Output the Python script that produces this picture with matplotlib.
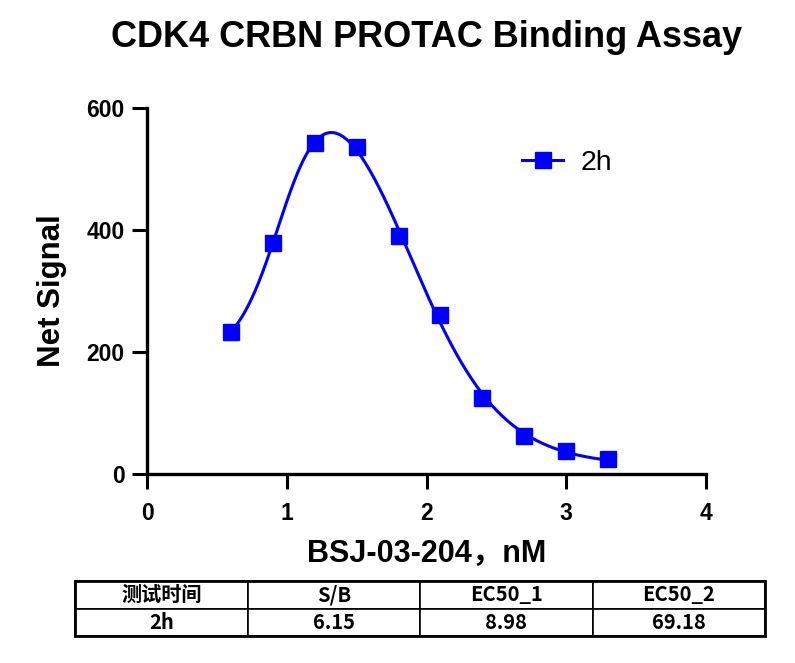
import numpy as np
import matplotlib
matplotlib.use("Agg")
from matplotlib import pyplot as plt
from matplotlib.patches import Rectangle

plt.rcParams['font.family'] = ['Liberation Sans', 'Noto Sans CJK SC', 'DejaVu Sans']

# data (log concentration, net signal)
log_conc = [0.6, 0.9, 1.2, 1.5, 1.8, 2.1, 2.4, 2.7, 3.0, 3.3]
signal_2h = [233, 379, 543, 536, 390, 261, 125, 62, 38, 25]

table_header = ["测试时间", "S/B", "EC50_1", "EC50_2"]
table_row = ["2h", "6.15", "8.98", "69.18"]

blue = "#0000FF"


def bell(p, x):
    p1, dip, p2, e1, n1, e2, n2 = p
    return (dip + (p1 - dip) / (1 + 10 ** ((x - e1) * n1))
            + (p2 - dip) / (1 + 10 ** ((e2 - x) * n2)))


def fit_bell(x, y, p0, iters=400):
    # small Levenberg-Marquardt, no scipy here
    p = np.array(p0, dtype=float)
    lam = 1e-2
    sse = np.sum((y - bell(p, x)) ** 2)
    for _ in range(iters):
        r = y - bell(p, x)
        J = np.zeros((len(x), len(p)))
        for k in range(len(p)):
            h = 1e-6 * max(1.0, abs(p[k]))
            dp = np.zeros_like(p)
            dp[k] = h
            J[:, k] = (bell(p + dp, x) - bell(p - dp, x)) / (2 * h)
        A = J.T @ J
        g = J.T @ r
        step = np.linalg.solve(A + lam * np.diag(np.diag(A) + 1e-9), g)
        new = p + step
        new_sse = np.sum((y - bell(new, x)) ** 2)
        if new_sse < sse:
            p, sse = new, new_sse
            lam *= 0.3
        else:
            lam *= 10
    return p


x = np.array(log_conc)
y = np.array(signal_2h, dtype=float)
params = fit_bell(x, y, [150, 700, 20, 0.9, 2.5, 1.95, 1.3])
xs = np.linspace(x.min(), x.max(), 300)

fig = plt.figure(figsize=(7.95, 6.63), dpi=100)
ax = fig.add_axes([0.185, 0.285, 0.703, 0.552])

ax.plot(xs, bell(params, xs), color=blue, lw=2.2)
ax.plot(x, y, 's', color=blue, ms=11.5)
ax.plot([], [], '-s', color=blue, lw=2.2, ms=11.5, label="2h")

ax.set_xlim(0, 4)
ax.set_ylim(0, 600)
ax.set_xticks([0, 1, 2, 3, 4])
ax.set_yticks([0, 200, 400, 600])
for s in ['top', 'right']:
    ax.spines[s].set_visible(False)
for s in ['left', 'bottom']:
    ax.spines[s].set_linewidth(2.4)
ax.tick_params(width=2.2, length=11, labelsize=16.5)
ax.tick_params(axis='x', pad=9)
ax.tick_params(axis='y', pad=5)
for lab in ax.get_xticklabels() + ax.get_yticklabels():
    lab.set_fontweight('bold')

ax.set_title("CDK4 CRBN PROTAC Binding Assay", fontsize=26, fontweight='bold', pad=44)
ax.set_xlabel("BSJ-03-204，nM", fontsize=22, fontweight='bold', labelpad=10)
ax.set_ylabel("Net Signal", fontsize=22.5, fontweight='bold', labelpad=14)

ax.legend(loc='upper left', bbox_to_anchor=(0.625, 0.955),
          frameon=False, fontsize=20.5, handlelength=1.45, handletextpad=0.6)

# results table
tax = fig.add_axes([75 / 795, 1 - 636 / 663, 690 / 795, 55 / 663])
tax.axis('off')
tb = tax.table(cellText=[table_header, table_row], cellLoc='center',
               bbox=[0, 0, 1, 1])
tb.auto_set_font_size(False)
for (r, c), cell in tb.get_celld().items():
    cell.set_linewidth(1.2)
    t = cell.get_text()
    t.set_fontsize(14.5)
    t.set_fontweight('bold')
    t.set_fontfamily(['Noto Sans CJK SC', 'DejaVu Sans'])
tax.add_patch(Rectangle((0, 0), 1, 1, transform=tax.transAxes, fill=False,
                        lw=2, ec='black', clip_on=False, zorder=5))

fig.savefig("out.png", dpi=100)
